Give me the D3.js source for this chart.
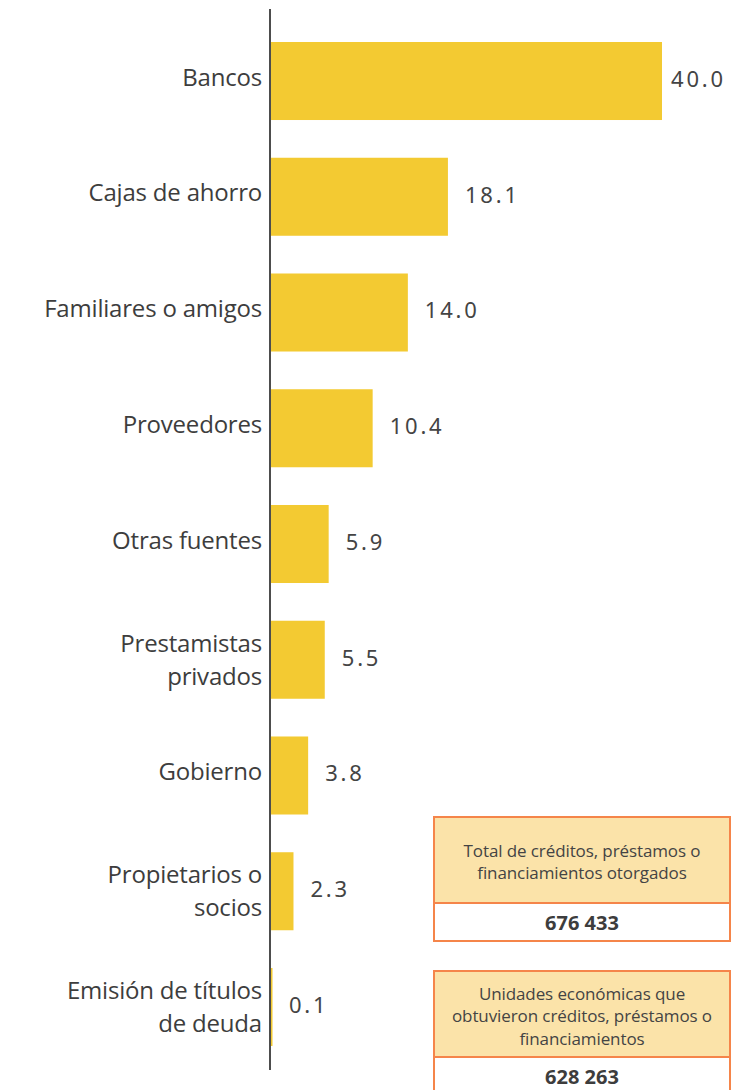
<!DOCTYPE html>
<html>
<head>
<meta charset="utf-8">
<script src="https://cdnjs.cloudflare.com/ajax/libs/d3/7.8.5/d3.min.js"></script>
<style>
  body { margin: 0; background: #fff; }
  svg { display: block; }
</style>
</head>
<body>
<div id="chart"></div>
<script>
// categories (each label may be split over lines) and percentages
const categories = [
  ["Bancos"],
  ["Cajas de ahorro"],
  ["Familiares o amigos"],
  ["Proveedores"],
  ["Otras fuentes"],
  ["Prestamistas", "privados"],
  ["Gobierno"],
  ["Propietarios o", "socios"],
  ["Emisión de títulos", "de deuda"]
];
const values = [40.0, 18.1, 14.0, 10.4, 5.9, 5.5, 3.8, 2.3, 0.1];

const boxTitles = [
  ["Total de créditos, préstamos o", "financiamientos otorgados"],
  ["Unidades económicas que", "obtuvieron créditos, préstamos o", "financiamientos"]
];
const boxNumbers = ["676 433", "628 263"];

var width = 752, height = 1090;

var svg = d3.select("#chart").append("svg")
    .attr("width", width)
    .attr("height", height);

var x = d3.scaleLinear().domain([0, 40]).range([271, 662]);
var y = d3.scaleBand()
    .domain(d3.range(values.length))
    .range([42, 1046])
    .paddingInner(0.326)
    .paddingOuter(0);

// bars
svg.selectAll(".bar")
    .data(values)
  .enter().append("rect")
    .attr("class", "bar")
    .attr("x", x(0))
    .attr("y", (d, i) => y(i))
    .attr("width", d => Math.max(x(d) - x(0), 1.5))
    .attr("height", y.bandwidth())
    .attr("fill", "#f3ca32");

// vertical axis line
svg.append("line")
    .attr("x1", 270).attr("x2", 270)
    .attr("y1", 9).attr("y2", 1070)
    .attr("stroke", "#4d4d4d")
    .attr("stroke-width", 2);

// value labels
svg.selectAll(".val")
    .data(values)
  .enter().append("text")
    .attr("class", "val")
    .attr("x", d => Math.min(x(d) + 17, 671))
    .attr("y", (d, i) => y(i) + y.bandwidth() / 2 - 2)
    .attr("dy", "0.36em")
    .attr("font-family", "Noto Sans, sans-serif")
    .attr("font-size", 22)
    .attr("letter-spacing", 2.8)
    .attr("fill", "#444")
    .text(d => d.toFixed(1));

// category labels
var lineH = 33;
var cat = svg.selectAll(".cat")
    .data(categories)
  .enter().append("text")
    .attr("class", "cat")
    .attr("text-anchor", "end")
    .attr("font-family", "Open Sans, sans-serif")
    .attr("font-size", 24)
    .attr("letter-spacing", -0.2)
    .attr("fill", "#3d3d3d")
    .attr("transform", (d, i) => "translate(262," + (y(i) + y.bandwidth() / 2 - (d.length > 1 ? 0 : 4)) + ")");

cat.selectAll("tspan")
    .data(d => d.map((t, j) => ({t: t, j: j, n: d.length})))
  .enter().append("tspan")
    .attr("x", 0)
    .attr("y", d => (d.j - (d.n - 1) / 2) * lineH)
    .attr("dy", "0.36em")
    .text(d => d.t);

// summary boxes
var boxX = 434, boxW = 296;
var boxTop = [817, 971];
var headH = [86, 86];
var numH = 38;
var stroke = "#f5854a";

boxTitles.forEach(function(lines, k) {
  var g = svg.append("g").attr("transform", "translate(" + boxX + "," + boxTop[k] + ")");
  g.append("rect")
      .attr("width", boxW).attr("height", headH[k])
      .attr("fill", "#fbe3a9")
      .attr("stroke", stroke).attr("stroke-width", 2);
  g.append("rect")
      .attr("y", headH[k]).attr("width", boxW).attr("height", numH)
      .attr("fill", "#fff")
      .attr("stroke", stroke).attr("stroke-width", 2);
  var lh = 22.5;
  var t = g.append("text")
      .attr("text-anchor", "middle")
      .attr("font-family", "Open Sans, sans-serif")
      .attr("font-size", 17)
      .attr("letter-spacing", -0.1)
      .attr("fill", "#444");
  t.selectAll("tspan")
      .data(lines)
    .enter().append("tspan")
      .attr("x", boxW / 2)
      .attr("y", (d, j) => headH[k] / 2 + 2 + (j - (lines.length - 1) / 2) * lh)
      .attr("dy", "0.36em")
      .text(d => d);
  g.append("text")
      .attr("x", boxW / 2)
      .attr("y", headH[k] + numH / 2 + 1)
      .attr("dy", "0.36em")
      .attr("text-anchor", "middle")
      .attr("font-family", "Open Sans, sans-serif")
      .attr("font-weight", "bold")
      .attr("font-size", 20)
      .attr("fill", "#3d3d3d")
      .text(boxNumbers[k]);
});
</script>
</body>
</html>
